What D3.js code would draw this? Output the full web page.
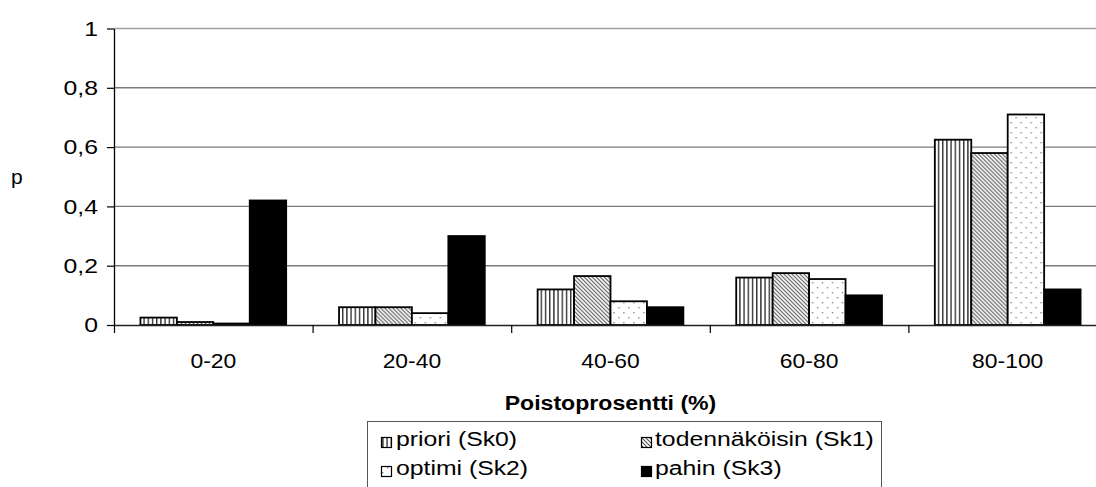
<!DOCTYPE html>
<html>
<head>
<meta charset="utf-8">
<script src="https://cdn.jsdelivr.net/npm/d3@7"></script>
<style>
  html, body { margin: 0; padding: 0; background: #fff; }
  svg { display: block; font-family: "Liberation Sans", Arial, sans-serif; }
</style>
</head>
<body>
<svg id="chart" width="1096" height="487"></svg>
<script>
// Poistoprosentti-luokat ja skenaarioiden todennäköisyydet
const categories = ["0-20", "20-40", "40-60", "60-80", "80-100"];
const seriesNames = ["priori (Sk0)", "todennäköisin (Sk1)", "optimi (Sk2)", "pahin (Sk3)"];
const priori = [0.025, 0.06, 0.12, 0.16, 0.625];
const todennakoisin = [0.01, 0.06, 0.165, 0.175, 0.58];
const optimi = [0.005, 0.04, 0.08, 0.155, 0.71];
const pahin = [0.42, 0.30, 0.06, 0.10, 0.12];
const yTicks = [0, 0.2, 0.4, 0.6, 0.8, 1];
const yTickLabels = ["0", "0,2", "0,4", "0,6", "0,8", "1"];
const xTitle = "Poistoprosentti (%)";
const yTitle = "p";

const seriesValues = [priori, todennakoisin, optimi, pahin];
const fills = ["url(#pVert)", "url(#pDiag)", "url(#pDots)", "#000"];

const svg = d3.select("#chart");
const plot = { left: 114, right: 1107, top: 28.5, bottom: 325 };

// Hatch patterns for the bars
const defs = svg.append("defs");
const pv = defs.append("pattern").attr("id", "pVert").attr("patternUnits", "userSpaceOnUse")
  .attr("width", 4.2).attr("height", 10);
pv.append("rect").attr("width", 4.2).attr("height", 10).attr("fill", "#fff");
pv.append("rect").attr("x", 0).attr("width", 1.4).attr("height", 10).attr("fill", "#333");

const pd = defs.append("pattern").attr("id", "pDiag").attr("patternUnits", "userSpaceOnUse")
  .attr("width", 4).attr("height", 4);
pd.append("rect").attr("width", 4).attr("height", 4).attr("fill", "#fff");
pd.append("path").attr("d", "M-1,-1L5,5M-3,1L1,5M3,-1L5,1")
  .attr("stroke", "#555").attr("stroke-width", 1.1);

const pdot = defs.append("pattern").attr("id", "pDots").attr("patternUnits", "userSpaceOnUse")
  .attr("width", 10).attr("height", 10);
pdot.append("rect").attr("width", 10).attr("height", 10).attr("fill", "#fff");
pdot.append("rect").attr("x", 2).attr("y", 2).attr("width", 1.4).attr("height", 1.4).attr("fill", "#888");
pdot.append("rect").attr("x", 7).attr("y", 7).attr("width", 1.4).attr("height", 1.4).attr("fill", "#888");

// Scales
const y = d3.scaleLinear().domain([0, 1]).range([plot.bottom, plot.top]);
const x0 = d3.scaleBand().domain(categories).range([plot.left, plot.right]).padding(0);
const gapRatio = 1.45;
const groupOffset = x0.bandwidth() * gapRatio / (2 * (seriesNames.length + gapRatio));
const x1 = d3.scaleBand().domain(seriesNames)
  .range([groupOffset, x0.bandwidth() - groupOffset]).padding(0);
const xb = d3.scaleLinear().domain([0, categories.length]).range([plot.left, plot.right]);

// Stretch text horizontally around its own anchor
function stretch(sel, sx) {
  sel.each(function () {
    const t = d3.select(this);
    const xv = +t.attr("x") || 0;
    t.attr("x", xv / sx).attr("transform", `scale(${sx},1)`);
  });
}

// Horizontal gridlines
svg.append("g").selectAll("line").data(yTicks.filter(d => d > 0)).join("line")
  .attr("x1", plot.left).attr("x2", plot.right)
  .attr("y1", d => y(d)).attr("y2", d => y(d))
  .attr("stroke", d => d === 1 ? "#a0a0a0" : "#7a7a7a").attr("stroke-width", 1.4);

// Bars
const groups = svg.append("g").selectAll("g").data(categories).join("g")
  .attr("transform", c => `translate(${x0(c)},0)`);
groups.selectAll("rect")
  .data((c, i) => seriesNames.map((s, k) => ({ s, k, v: seriesValues[k][i] })))
  .join("rect")
  .attr("x", d => x1(d.s))
  .attr("y", d => y(d.v))
  .attr("width", x1.bandwidth())
  .attr("height", d => y(0) - y(d.v))
  .attr("fill", d => fills[d.k])
  .attr("stroke", "#000").attr("stroke-width", 1.8);

// Y axis
const yAxis = svg.append("g").attr("transform", `translate(${plot.left},0)`)
  .call(d3.axisLeft(y).tickValues(yTicks).tickFormat((d, i) => yTickLabels[i])
    .tickSize(7).tickPadding(9).tickSizeOuter(0));
yAxis.select(".domain").attr("stroke", "#000").attr("stroke-width", 1.3);
yAxis.selectAll(".tick line").attr("stroke", "#000").attr("stroke-width", 1.2);
yAxis.selectAll("text").attr("font-size", 21).attr("fill", "#000")
  .attr("font-family", "Liberation Sans, Arial, sans-serif");
stretch(yAxis.selectAll("text"), 1.18);

// X axis line with boundary ticks
const xAxis = svg.append("g").attr("transform", `translate(0,${plot.bottom})`)
  .call(d3.axisBottom(xb).ticks(categories.length).tickFormat("").tickSize(8).tickSizeOuter(0));
xAxis.select(".domain").attr("stroke", "#222").attr("stroke-width", 1.3);
xAxis.selectAll(".tick line").attr("stroke", "#000").attr("stroke-width", 1.2);

// Category labels
const xLab = svg.append("g").attr("transform", `translate(0,${plot.bottom})`)
  .call(d3.axisBottom(x0).tickSize(0).tickPadding(28));
xLab.select(".domain").remove();
xLab.selectAll("text").attr("font-size", 21).attr("fill", "#000")
  .attr("font-family", "Liberation Sans, Arial, sans-serif");
stretch(xLab.selectAll("text"), 1.09);

// Axis titles
const xt = svg.append("text").attr("x", (plot.left + plot.right) / 2).attr("y", 410)
  .attr("text-anchor", "middle").attr("font-size", 21).attr("font-weight", "bold")
  .text(xTitle);
stretch(xt, 1.1);
svg.append("text").attr("x", 11).attr("y", 184).attr("font-size", 21).text(yTitle);

// Legend
const lg = svg.append("g");
lg.append("rect").attr("x", 367.5).attr("y", 421.5).attr("width", 514).attr("height", 80)
  .attr("fill", "#fff").attr("stroke", "#555").attr("stroke-width", 1);
const legendPos = [
  { ix: 381, tx: 396, iy: 437, ty: 446 },
  { ix: 641, tx: 655, iy: 437, ty: 446 },
  { ix: 381, tx: 396, iy: 466, ty: 475 },
  { ix: 641, tx: 655, iy: 466, ty: 475 }
];
seriesNames.forEach((s, k) => {
  const p = legendPos[k];
  lg.append("rect").attr("x", p.ix + 0.5).attr("y", p.iy + 0.5).attr("width", 10).attr("height", 10)
    .attr("fill", fills[k]).attr("stroke", "#000").attr("stroke-width", 1.2);
  const t = lg.append("text").attr("x", p.tx).attr("y", p.ty).attr("font-size", 21).text(s);
  stretch(t, 1.18);
});
</script>
</body>
</html>
